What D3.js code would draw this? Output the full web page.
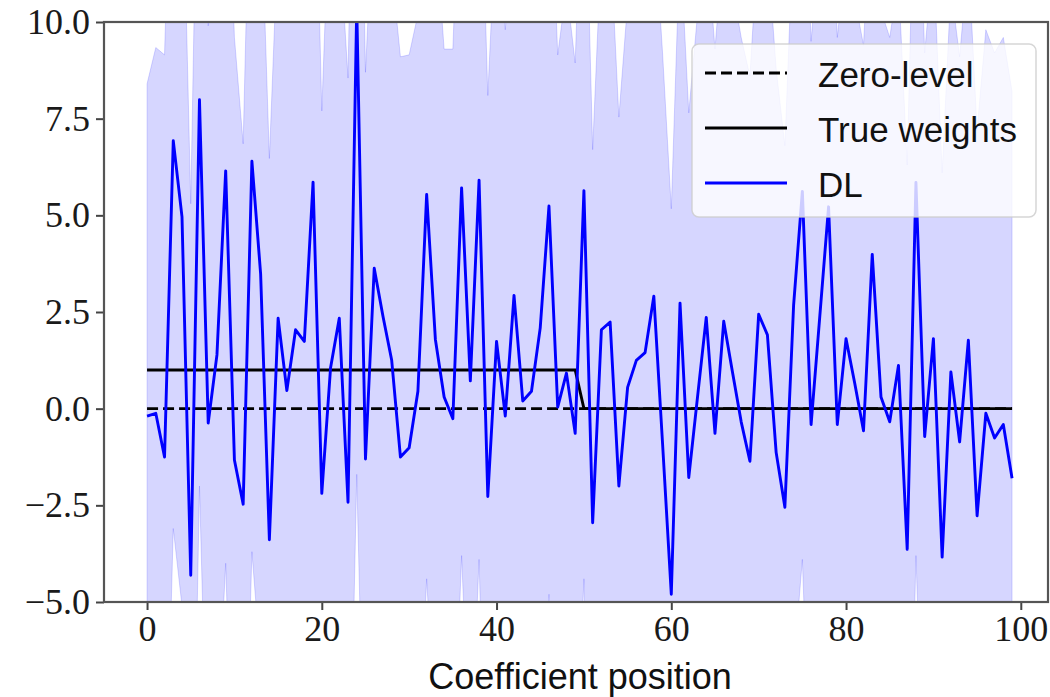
<!DOCTYPE html>
<html><head><meta charset="utf-8">
<script src="https://cdn.jsdelivr.net/npm/d3@7"></script>
<style>html,body{margin:0;padding:0;background:#fff;} svg{display:block;}</style>
</head><body><svg id="chart" width="1050" height="697"></svg>
<script>
const positions = d3.range(100);
const dlValues = [-0.19,-0.12,-1.25,6.93,4.96,-4.31,7.99,-0.37,1.39,6.15,
 -1.33,-2.47,6.40,3.48,-3.39,2.34,0.47,2.04,1.74,5.86,
 -2.19,1.05,2.34,-2.42,10.4,-1.30,3.63,2.39,1.25,-1.25,
 -1.01,0.45,5.54,1.79,0.30,-0.26,5.71,0.72,5.91,-2.27,
 1.74,-0.19,2.93,0.20,0.45,2.09,5.24,0.04,0.92,-0.64,
 5.64,-2.95,2.04,2.24,-2.00,0.55,1.25,1.45,2.91,-0.90,
 -4.80,2.73,-1.78,0.30,2.36,-0.64,2.26,0.95,-0.34,-1.36,
 2.44,1.91,-1.13,-2.55,2.68,5.62,-0.41,2.40,5.22,-0.41,
 1.81,0.65,-0.57,3.99,0.30,-0.34,1.12,-3.64,5.85,-0.72,
 1.81,-3.84,0.95,-0.86,1.77,-2.77,-0.12,-0.76,-0.41,-1.80];
const upperBand = [8.4,9.34,9.15,16.9,15.0,5.3,18.0,9.9,11.4,16.1,
 9.6,6.85,16.4,13.5,6.47,12.3,10.6,12.0,11.7,17.0,
 7.7,14.0,12.3,8.55,21.0,8.7,13.6,12.4,11.35,9.1,
 9.15,10.2,15.5,12.5,9.3,9.3,15.5,10.8,15.9,8.1,
 13.0,9.8,12.9,10.2,10.5,12.1,15.2,9.15,10.9,8.94,
 15.6,6.7,12.0,12.2,7.54,10.5,11.2,11.4,12.8,9.2,
 5.17,12.1,7.65,10.2,12.3,9.3,12.2,10.9,9.6,8.6,
 12.4,11.9,8.8,6.8,12.6,15.5,9.5,12.3,15.1,9.6,
 11.8,10.6,9.4,13.9,10.3,9.6,11.1,6.3,15.7,9.2,
 11.8,6.1,10.9,9.1,11.7,7.2,9.8,9.2,9.6,8.2];
const lowerBand = [-10.2,-10.1,-11.6,-3.1,-5.1,-14.2,-2.0,-10.6,-8.6,-4.0,
 -11.4,-12.0,-3.7,-6.6,-13.3,-7.7,-9.5,-7.9,-8.3,-5.2,
 -12.1,-9.0,-7.7,-12.5,-1.7,-11.3,-6.4,-7.6,-8.8,-11.3,
 -11.2,-9.5,-4.4,-8.4,-9.0,-9.9,-3.8,-9.3,-3.9,-12.4,
 -8.3,-10.2,-7.1,-9.8,-9.6,-8.0,-4.8,-9.1,-9.1,-10.2,
 -4.4,-12.6,-8.0,-7.8,-11.5,-9.4,-8.8,-8.5,-7.0,-11.0,
 -14.8,-6.6,-11.2,-9.6,-7.6,-10.6,-7.7,-9.0,-10.3,-11.3,
 -7.5,-8.0,-11.0,-11.9,-6.7,-3.9,-10.3,-7.6,-5.2,-10.0,
 -8.0,-9.3,-10.5,-6.0,-9.8,-10.3,-8.9,-13.6,-3.8,-10.6,
 -8.1,-13.8,-9.0,-10.9,-8.1,-12.7,-10.0,-10.7,-10.4,-11.8];
const trueWeights = [1,1,1,1,1,1,1,1,1,1, 1,1,1,1,1,1,1,1,1,1,
 1,1,1,1,1,1,1,1,1,1, 1,1,1,1,1,1,1,1,1,1, 1,1,1,1,1,1,1,1,1,1,
 0,0,0,0,0,0,0,0,0,0, 0,0,0,0,0,0,0,0,0,0, 0,0,0,0,0,0,0,0,0,0,
 0,0,0,0,0,0,0,0,0,0, 0,0,0,0,0,0,0,0,0,0];
const zeroLevel = [0,0,0,0,0,0,0,0,0,0, 0,0,0,0,0,0,0,0,0,0,
 0,0,0,0,0,0,0,0,0,0, 0,0,0,0,0,0,0,0,0,0, 0,0,0,0,0,0,0,0,0,0,
 0,0,0,0,0,0,0,0,0,0, 0,0,0,0,0,0,0,0,0,0, 0,0,0,0,0,0,0,0,0,0,
 0,0,0,0,0,0,0,0,0,0, 0,0,0,0,0,0,0,0,0,0];
const xTicks = [0, 20, 40, 60, 80, 100];
const yTicks = [-5, -2.5, 0, 2.5, 5, 7.5, 10];
const legendLabels = ["Zero-level", "True weights", "DL"];
const xLabel = "Coefficient position";

const svg = d3.select("#chart");
const m = {left: 104, right: 1048, top: 22, bottom: 602};
const x = d3.scaleLinear().domain([-4.95, 103.95]).range([103.8, 1055.3]);
const y = d3.scaleLinear().domain([-5, 10]).range([m.bottom, m.top]);

svg.append("defs").append("clipPath").attr("id", "clip")
  .append("rect").attr("x", m.left).attr("y", m.top)
  .attr("width", m.right - m.left).attr("height", m.bottom - m.top);

const plot = svg.append("g").attr("clip-path", "url(#clip)");

const band = d3.area()
  .x((d, i) => x(positions[i]))
  .y0((d, i) => y(lowerBand[i]))
  .y1((d, i) => y(upperBand[i]));
plot.append("path").datum(positions).attr("d", band)
  .attr("fill", "rgba(0,0,255,0.16)")
  .attr("stroke", "rgba(0,0,255,0.15)").attr("stroke-width", 1);

const lineOf = arr => d3.line().x((d, i) => x(positions[i])).y((d, i) => y(arr[i]));
plot.append("path").datum(positions).attr("d", lineOf(zeroLevel))
  .attr("fill", "none").attr("stroke", "#000").attr("stroke-width", 2.9)
  .attr("stroke-dasharray", "11,5");
plot.append("path").datum(positions).attr("d", lineOf(trueWeights))
  .attr("fill", "none").attr("stroke", "#000").attr("stroke-width", 2.9);
plot.append("path").datum(positions).attr("d", lineOf(dlValues))
  .attr("fill", "none").attr("stroke", "#0000ff").attr("stroke-width", 2.9)
  .attr("stroke-linejoin", "round");

// axes
const tickFont = "'Liberation Serif', 'DejaVu Serif', serif";
const xAxis = svg.append("g").attr("transform", `translate(0,${m.bottom})`)
  .call(d3.axisBottom(x).tickValues(xTicks).tickSize(8).tickSizeOuter(0).tickPadding(5)
    .tickFormat(d3.format("d")));
const yAxis = svg.append("g").attr("transform", `translate(${m.left},0)`)
  .call(d3.axisLeft(y).tickValues(yTicks).tickSize(8).tickSizeOuter(0).tickPadding(6)
    .tickFormat(d3.format(".1f")));
[xAxis, yAxis].forEach(a => {
  a.select(".domain").remove();
  a.selectAll(".tick line").attr("stroke", "#444").attr("stroke-width", 2);
  a.selectAll(".tick text").attr("font-family", tickFont).attr("font-size", 36)
    .attr("fill", "#1a1a1a");
});

// spines
svg.append("rect").attr("x", m.left).attr("y", m.top)
  .attr("width", m.right - m.left).attr("height", m.bottom - m.top)
  .attr("fill", "none").attr("stroke", "#555").attr("stroke-width", 2.2);

// legend
const sans = "'Liberation Sans', Arial, sans-serif";
const lg = svg.append("g");
lg.append("rect").attr("x", 692).attr("y", 44).attr("width", 344).attr("height", 173)
  .attr("rx", 7).attr("fill", "rgba(255,255,255,0.8)")
  .attr("stroke", "rgba(204,204,204,0.8)").attr("stroke-width", 1.5);
const styles = [{c: "#000", dash: "11,5"}, {c: "#000", dash: null}, {c: "#0000ff", dash: null}];
legendLabels.forEach((lab, k) => {
  const cy = 73 + k * 55;
  lg.append("line").attr("x1", 705).attr("x2", 787).attr("y1", cy).attr("y2", cy)
    .attr("stroke", styles[k].c).attr("stroke-width", 2.9)
    .attr("stroke-dasharray", styles[k].dash);
  lg.append("text").attr("x", 818).attr("y", cy + 14).text(lab)
    .attr("font-family", sans).attr("font-size", 35).attr("fill", "#111");
});

svg.append("text").attr("x", 580).attr("y", 689)
  .attr("text-anchor", "middle").text(xLabel)
  .attr("font-family", sans).attr("font-size", 36).attr("fill", "#111");
</script></body></html>
